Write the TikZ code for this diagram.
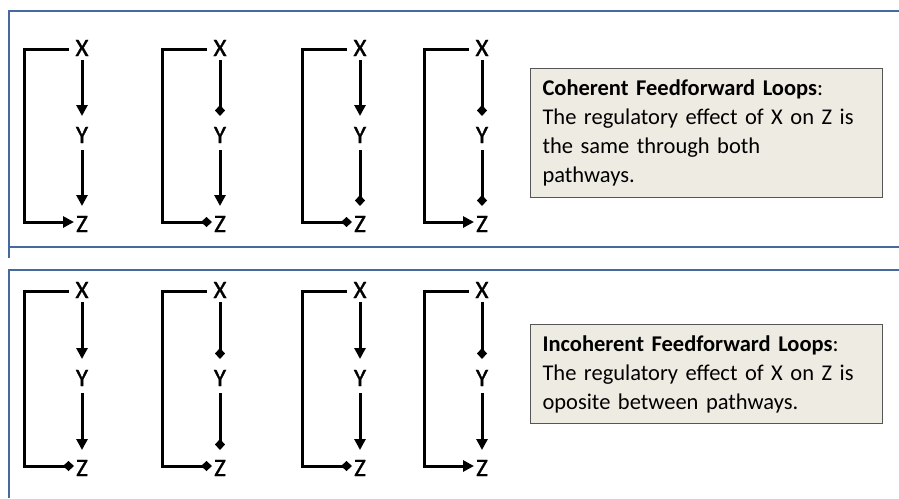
\documentclass[tikz,border=0pt]{standalone}
\usepackage{fontspec}
\setmainfont{Carlito}
\newfontfamily\lettfont{Carlito}[FakeBold=1.2]
\usetikzlibrary{arrows.meta}
\definecolor{frameblue}{RGB}{70,106,158}
\definecolor{boxfill}{RGB}{238,236,226}
\definecolor{boxline}{RGB}{85,85,85}
\tikzset{
  frameline/.style={draw=frameblue,line width=2.6pt},
  lbl/.style={inner sep=0pt,font=\lettfont\fontsize{25}{29}\selectfont},
  conn/.style={line width=3pt},
  actv/.style={-{Triangle[length=11pt,width=11pt]}},
  inhb/.style={-{Diamond[length=11pt,width=10pt]}},
  descbox/.style={draw=boxline,fill=boxfill,line width=1pt,anchor=north west,
    text width=328pt,align=left,inner xsep=12pt,inner ysep=0pt,
    font=\fontsize{22.5}{29}\selectfont}
}
\newcommand{\fflloop}[8]{%
  \node[lbl] (#1X) at (#2,#3) {X};
  \node[lbl] (#1Y) at (#2,#4) {Y};
  \node[lbl] (#1Z) at (#2,#5) {Z};
  \draw[conn,#6] ([yshift=-12pt]#1X.center) -- ([yshift=19pt]#1Y.center);
  \draw[conn,#7] ([yshift=-15pt]#1Y.center) -- ([yshift=18pt]#1Z.center);
  \draw[conn,#8] ([xshift=-13pt,yshift=-1pt]#1X.center) -- ++(-45pt,0)
     |- ([xshift=-8pt,yshift=2pt]#1Z.center);
}
\begin{document}
\begin{tikzpicture}[x=1pt,y=-1pt]
\useasboundingbox[fill=white] (0,0) rectangle (899,498);
% frames
\draw[frameline] (8,11) -- (899,11);
\draw[frameline] (9,11) -- (9,258);
\draw[frameline] (9,247) -- (899,247);
\draw[frameline] (8,270) -- (899,270);
\draw[frameline] (9,270) -- (9,498);
% coherent loops
\fflloop{a}{82}{48}{135}{224}{actv}{actv}{actv}
\fflloop{b}{220}{48}{135}{224}{inhb}{actv}{inhb}
\fflloop{c}{360}{48}{135}{224}{actv}{inhb}{inhb}
\fflloop{d}{482}{48}{135}{224}{inhb}{inhb}{actv}
% incoherent loops
\fflloop{e}{82}{290}{378}{468}{actv}{actv}{inhb}
\fflloop{f}{220}{290}{378}{468}{inhb}{inhb}{inhb}
\fflloop{g}{360}{290}{378}{468}{actv}{actv}{inhb}
\fflloop{h}{482}{290}{378}{468}{inhb}{actv}{actv}
% text boxes
\node[descbox,minimum height=129pt] (cbox) at (530,68)
  {\textbf{Coherent Feedforward Loops}:\\The regulatory effect of X on Z is\\the same through both\\pathways.};
\node[descbox,minimum height=99pt] (ibox) at (530,324)
  {\textbf{Incoherent Feedforward Loops}:\\The regulatory effect of X on Z is\\oposite between pathways.};
\end{tikzpicture}
\end{document}
